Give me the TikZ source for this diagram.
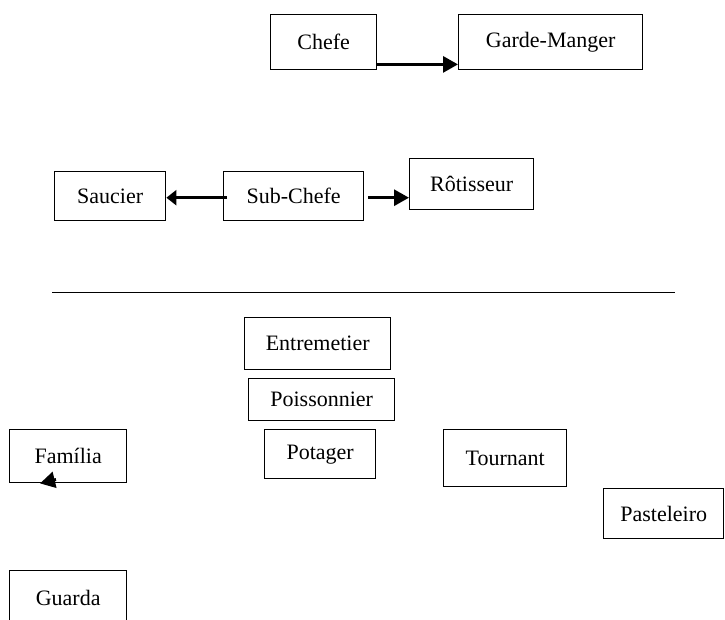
\documentclass[tikz,border=0pt]{standalone}
\usepackage{fontspec}
\setmainfont{Liberation Serif}
\usetikzlibrary{arrows.meta}

\tikzset{
  cargo/.style={draw,line width=1.4pt,anchor=north west,inner sep=0pt,
    font=\fontsize{22}{26}\selectfont},
  seta/.style={line width=3pt,-{Triangle[length=15pt,width=16pt]}},
}

\begin{document}
\begin{tikzpicture}[x=1pt,y=-1pt]
    \useasboundingbox (0,0) rectangle (725,619);
    % caixas: nome/x/y/largura/altura/texto
    \foreach \nome/\x/\y/\w/\h/\texto in {%
        chefe/270/14/106/55/Chefe,
        garde/458/14/184/55/Garde-Manger,
        saucier/54/171/111/49/Saucier,
        subchefe/223/171/140/49/Sub-Chefe,
        rotisseur/409/158/124/51/Rôtisseur,
        entremetier/244/317/146/52/Entremetier,
        poissonnier/248/378/146/42/Poissonnier,
        potager/264/429/111/49/Potager,
        familia/9/429/117/53/Família,
        guarda/9/570/117/55/Guarda,
        tournant/443/429/123/57/Tournant,
        pasteleiro/603/488/120/50/Pasteleiro}{%
        \node[cargo,minimum width=\w pt,minimum height=\h pt] (\nome) at (\x,\y) {\texto};
    }
    \draw[seta] ([yshift=6pt]chefe.south east) -- ([yshift=6pt]garde.south west);
    \draw[seta,-{Triangle[length=10pt,width=15pt]}] ([xshift=4pt,yshift=-1.5pt]subchefe.west) -- ([yshift=-1.5pt]saucier.east);
    \draw[seta] ([xshift=4pt,yshift=-1.5pt]subchefe.east) -- ([yshift=-13.5pt]rotisseur.west);
    \draw[line width=1pt] (52,292) -- (675,292);
    \coordinate (cauda) at (56,479.5);
    \coordinate (ponta) at ([xshift=31pt]familia.south west);
    \draw[seta] (cauda) -- (ponta);
\end{tikzpicture}
\end{document}
